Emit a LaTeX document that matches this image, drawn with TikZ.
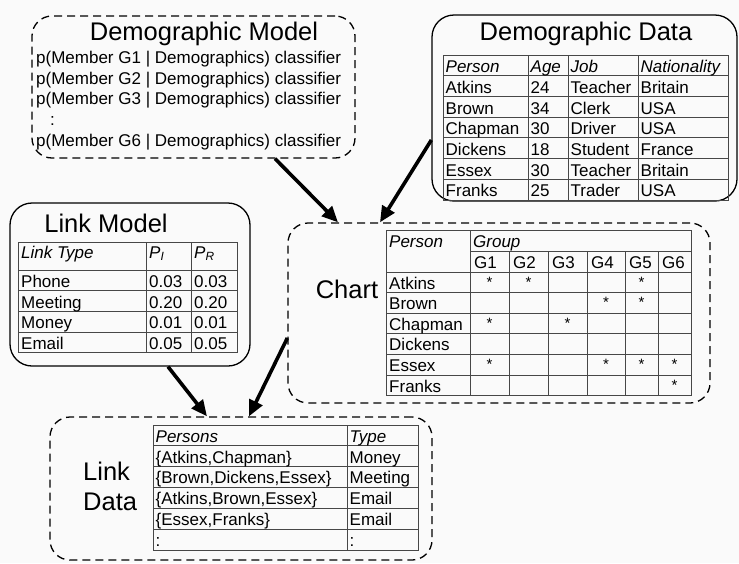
\documentclass[tikz,border=0pt]{standalone}
\usepackage{fontspec}
\setmainfont{Liberation Sans}
\usetikzlibrary{arrows.meta,calc}
\tikzset{
  dbox/.style={draw, dash pattern=on 8pt off 5pt, line width=1.3pt, rounded corners=20pt, inner sep=0pt},
  sbox/.style={draw, line width=1.3pt, rounded corners=22pt, inner sep=0pt},
  grid/.style={draw=black!72, line width=0.8pt},
  tt/.style={font=\fontsize{17}{19}\selectfont, anchor=base west, inner sep=0pt, text=black},
  st/.style={font=\fontsize{15}{17}\selectfont, anchor=base, inner sep=0pt, text=black},
  ttl/.style={font=\fontsize{25.5}{28}\selectfont, anchor=base, inner sep=0pt, text=black},
  arr/.style={-{Triangle[length=16pt,width=14pt]}, line width=3.6pt}
}
\begin{document}
\begin{tikzpicture}[x=1pt,y=-1pt]
\fill[black!2] (0,0) rectangle (739,563);
\useasboundingbox (0,0) rectangle (739,563);

% ---------- boxes ----------
\node[dbox, minimum width=323pt, minimum height=142pt] (dm) at (193.5,87) {};
\node[sbox, minimum width=305pt, minimum height=186pt] (dd) at (584.5,108) {};
\node[sbox, minimum width=240pt, minimum height=163pt] (lm) at (130,284.5) {};
\node[dbox, minimum width=422pt, minimum height=180pt] (ch) at (499,313) {};
\node[dbox, minimum width=382pt, minimum height=143pt] (ld) at (241,488.5) {};

% ---------- Demographic Model ----------
\node[ttl] (dmt) at (204,40) {Demographic Model};
\node[tt] (dm1) at (36,63) {p(Member G1 | Demographics) classifier};
\node[tt] (dm2) at (36,84) {p(Member G2 | Demographics) classifier};
\node[tt] (dm3) at (36,104.5) {p(Member G3 | Demographics) classifier};
\node[tt] (dmc) at (50,125) {:};
\node[tt] (dm6) at (36,146) {p(Member G6 | Demographics) classifier};

% ---------- Demographic Data ----------
\node[ttl] (ddt) at (586,40) {Demographic Data};
\draw[grid] (443,55) rectangle (728,200);
\foreach \y in {75.7,96.4,117.1,137.8,158.5,179.2} \draw[grid] (443,\y) -- (728,\y);
\foreach \x in {528,568,638} \draw[grid] (\x,55) -- (\x,200);
\node[tt] (ddh1) at (445.5,72.7) {\itshape Person};
\node[tt] (ddh2) at (530.5,72.7) {\itshape Age};
\node[tt] (ddh3) at (570.5,72.7) {\itshape Job};
\node[tt] (ddh4) at (640.5,72.7) {\itshape Nationality};
\foreach \p/\a/\j/\n [count=\i] in {Atkins/24/Teacher/Britain, Brown/34/Clerk/USA, Chapman/30/Driver/USA, Dickens/18/Student/France, Essex/30/Teacher/Britain, Franks/25/Trader/USA}{
  \node[tt] (ddp\i) at (445.5,{55+20.7*\i+17.7}) {\p};
  \node[tt] (dda\i) at (530.5,{55+20.7*\i+17.7}) {\a};
  \node[tt] (ddj\i) at (570.5,{55+20.7*\i+17.7}) {\j};
  \node[tt] (ddn\i) at (640.5,{55+20.7*\i+17.7}) {\n};
}

% ---------- Link Model ----------
\node[ttl] (lmt) at (106,232) {Link Model};
\draw[grid] (18,242) rectangle (237,352.8);
\foreach \y in {270,290.7,311.4,332.1} \draw[grid] (18,\y) -- (237,\y);
\foreach \x in {146,191} \draw[grid] (\x,242) -- (\x,352.8);
\node[tt] (lmh1) at (21,258) {\itshape Link Type};
\node[tt] (lmh2) at (149,258) {\itshape P\textsubscript{I}};
\node[tt] (lmh3) at (194,258) {\itshape P\textsubscript{R}};
\foreach \t/\a/\b [count=\i] in {Phone/0.03/0.03, Meeting/0.20/0.20, Money/0.01/0.01, Email/0.05/0.05}{
  \node[tt] (lmt\i) at (21,{249.3+20.7*\i+17.5}) {\t};
  \node[tt] (lma\i) at (149,{249.3+20.7*\i+17.5}) {\a};
  \node[tt] (lmb\i) at (194,{249.3+20.7*\i+17.5}) {\b};
}

% ---------- Chart ----------
\node[ttl] (cht) at (347,298) {Chart};
\draw[grid] (386,230) rectangle (691,395.6);
\draw[grid] (470,251) -- (691,251);
\foreach \y in {272,292.6,313.2,333.8,354.4,375} \draw[grid] (386,\y) -- (691,\y);
\draw[grid] (470,230) -- (470,395.6);
\foreach \x in {509,548,587,625,658} \draw[grid] (\x,251) -- (\x,395.6);
\node[tt] (chp) at (389,247) {\itshape Person};
\node[tt] (chg) at (473,247) {\itshape Group};
\foreach \g/\x in {1/470,2/509,3/548,4/587,5/625,6/658}
  \node[tt] (chg\g) at ({\x+4},268.5) {G\g};
\foreach \p [count=\i] in {Atkins,Brown,Chapman,Dickens,Essex,Franks}
  \node[tt] (chr\i) at (389,{251.4+20.6*\i+17}) {\p};
\foreach \r/\c in {1/1,1/2,1/5,2/4,2/5,3/1,3/3,5/1,5/4,5/5,5/6,6/6}{
  \pgfmathsetmacro\cx{{489.5,528.5,567.5,606,641.5,674.5}[\c-1]}
  \node[st] (s\r-\c) at (\cx,{251.4+20.6*\r+15}) {*};
}

% ---------- Link Data ----------
\node[tt, font=\fontsize{25.5}{28}\selectfont] (ldt1) at (83,480) {Link};
\node[tt, font=\fontsize{25.5}{28}\selectfont] (ldt2) at (83,510) {Data};
\draw[grid] (153,425) rectangle (418,550);
\foreach \y in {445.8,466.6,487.4,508.2,529} \draw[grid] (153,\y) -- (418,\y);
\draw[grid] (347,425) -- (347,550);
\node[tt] (ldh1) at (155.5,442) {\itshape Persons};
\node[tt] (ldh2) at (349.5,442) {\itshape Type};
\foreach \p/\t [count=\i] in {{\{Atkins,Chapman\}}/Money, {\{Brown,Dickens,Essex\}}/Meeting, {\{Atkins,Brown,Essex\}}/Email, {\{Essex,Franks\}}/Email, {:}/:}{
  \node[tt] (ldp\i) at (155.5,{425+20.8*\i+17.3}) {\p};
  \node[tt] (ldq\i) at (349.5,{425+20.8*\i+17.3}) {\t};
}

% ---------- arrows ----------
\draw[arr] ([xshift=81.5pt]dm.south) -- ([xshift=-161pt]ch.north);
\draw[arr] ([yshift=-32pt]dd.west) -- ([xshift=-119pt]ch.north);
\draw[arr] ([xshift=38pt]lm.south) -- ([xshift=-34pt]ld.north);
\draw[arr] ([yshift=-25pt]ch.west) -- ([xshift=8pt]ld.north);
\end{tikzpicture}
\end{document}
